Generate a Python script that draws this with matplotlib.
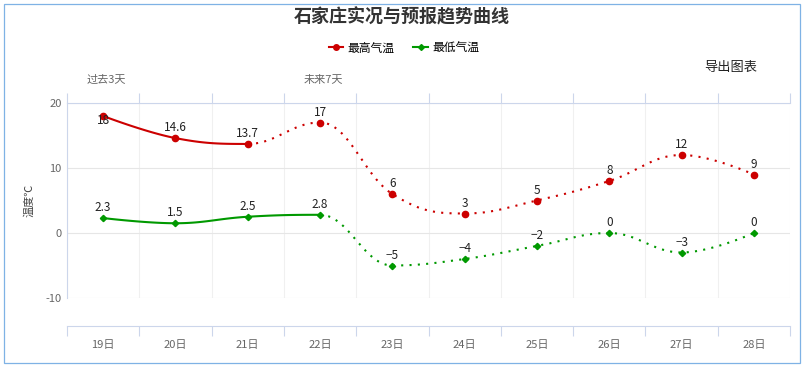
import numpy as np
import matplotlib
matplotlib.use('Agg')
from matplotlib import pyplot as plt
from matplotlib.lines import Line2D
from matplotlib.patches import Rectangle

plt.rcParams['font.family'] = ['Noto Sans CJK SC', 'DejaVu Sans']
plt.rcParams['axes.unicode_minus'] = False

days = ['19日', '20日', '21日', '22日', '23日', '24日', '25日', '26日', '27日', '28日']
high = [18, 14.6, 13.7, 17, 6, 3, 5, 8, 12, 9]
low = [2.3, 1.5, 2.5, 2.8, -5, -4, -2, 0, -3, 0]
high_solid_until = 2   # index where observed data ends (red)
low_solid_until = 3    # green

RED = '#cc0000'
GREEN = '#009900'
AXIS = '#ccd6eb'
GRID_Y = '#e6e6e6'
GRID_X = '#f0f0f0'
GREY = '#666666'


def spline_segments(xs, ys, smoothing=1.5):
    # highcharts-like spline control points
    n = len(xs)
    lc, rc = [], []
    for i in range(n):
        x, y = xs[i], ys[i]
        if 0 < i < n - 1:
            lx, ly = xs[i - 1], ys[i - 1]
            nx, ny = xs[i + 1], ys[i + 1]
            d = smoothing + 1
            lcx = (smoothing * x + lx) / d
            lcy = (smoothing * y + ly) / d
            rcx = (smoothing * x + nx) / d
            rcy = (smoothing * y + ny) / d
            if rcx != lcx:
                corr = ((rcy - lcy) * (rcx - x)) / (rcx - lcx) + y - rcy
                lcy += corr
                rcy += corr
            if lcy > ly and lcy > y:
                lcy = max(ly, y)
                rcy = 2 * y - lcy
            elif lcy < ly and lcy < y:
                lcy = min(ly, y)
                rcy = 2 * y - lcy
            if rcy > ny and rcy > y:
                rcy = max(ny, y)
                lcy = 2 * y - rcy
            elif rcy < ny and rcy < y:
                rcy = min(ny, y)
                lcy = 2 * y - rcy
        else:
            lcx = rcx = x
            lcy = rcy = y
        lc.append((lcx, lcy))
        rc.append((rcx, rcy))

    t = np.linspace(0, 1, 40)[:, None]
    segs = []
    for i in range(1, n):
        p0 = np.array([xs[i - 1], ys[i - 1]])
        p1 = np.array(rc[i - 1])
        p2 = np.array(lc[i])
        p3 = np.array([xs[i], ys[i]])
        pts = ((1 - t) ** 3) * p0 + 3 * ((1 - t) ** 2) * t * p1 + 3 * (1 - t) * t ** 2 * p2 + t ** 3 * p3
        segs.append(pts)
    return segs


def draw_series(ax, values, color, marker, msize, solid_until):
    xs = list(range(len(values)))
    segs = spline_segments(xs, values)
    solid = np.vstack(segs[:solid_until])
    dotted = np.vstack(segs[solid_until:])
    ax.plot(solid[:, 0], solid[:, 1], color=color, lw=1.5, solid_capstyle='round', zorder=3)
    ax.plot(dotted[:, 0], dotted[:, 1], color=color, lw=1.5, linestyle=(0, (1, 3)), zorder=3)
    ax.plot(xs, values, linestyle='none', marker=marker, color=color, markersize=msize, zorder=4)


fig = plt.figure(figsize=(8.05, 3.67), dpi=100)
fig.patches.append(Rectangle((3.5 / 805, 1 - 362.5 / 367), 796.5 / 805, 358.5 / 367,
                             transform=fig.transFigure, fill=False, edgecolor='#7fb2e5', lw=0.9))

ax = fig.add_axes([67 / 805, 1 - 298 / 367, 723 / 805, 195 / 367])
ax.set_xlim(-0.5, 9.5)
ax.set_ylim(-10, 20)

draw_series(ax, high, RED, 'o', 4.5, high_solid_until)
draw_series(ax, low, GREEN, 'D', 3.2, low_solid_until)

# data labels
for i, v in enumerate(high):
    txt = str(v).replace('-', '−')
    off = -3.6 if i == 0 else 7.5
    ax.annotate(txt, (i, v), xytext=(0, off), textcoords='offset points',
                ha='center', va='center', fontsize=8.5, color='#222222', zorder=5)
for i, v in enumerate(low):
    txt = str(v).replace('-', '−')
    ax.annotate(txt, (i, v), xytext=(0, 7.5), textcoords='offset points',
                ha='center', va='center', fontsize=8.5, color='#222222', zorder=5)

# axes styling
ax.set_xticks(range(len(days)))
ax.set_xticklabels(days)
ax.set_xticks(np.arange(-0.5, 10, 1), minor=True)
ax.set_yticks([-10, 0, 10, 20])
ax.tick_params(axis='x', which='major', length=0, pad=10, labelsize=8, labelcolor=GREY)
ax.tick_params(axis='x', which='minor', length=7.2, width=0.8, color=AXIS, direction='out',
               top=True, bottom=True)
ax.tick_params(axis='y', length=0, pad=4, labelsize=8, labelcolor=GREY)
ax.grid(axis='x', which='minor', color=GRID_X, lw=0.8)
ax.grid(axis='y', which='major', color=GRID_Y, lw=0.8)
ax.set_axisbelow(True)

ax.spines['right'].set_visible(False)
ax.spines['left'].set_color(AXIS)
ax.spines['top'].set_color(AXIS)
ax.spines['bottom'].set_color(AXIS)
ax.spines['bottom'].set_position(('outward', 20.2))
for s in ['left', 'top', 'bottom']:
    ax.spines[s].set_linewidth(0.8)

ax.set_ylabel('温度℃', fontsize=8, color='#444444', labelpad=8)

# titles and notes
fig.text(402 / 805, 1 - 17 / 367, '石家庄实况与预报趋势曲线', ha='center', va='center',
         fontsize=13, fontweight='bold', color='#333333')
fig.text(106 / 805, 1 - 80 / 367, '过去3天', ha='center', va='center', fontsize=8, color=GREY)
fig.text(323 / 805, 1 - 80 / 367, '未来7天', ha='center', va='center', fontsize=8, color=GREY)
fig.text(731 / 805, 1 - 67 / 367, '导出图表', ha='center', va='center', fontsize=9.5, color='#222222')

handles = [Line2D([], [], color=RED, marker='o', markersize=4, lw=1.5),
           Line2D([], [], color=GREEN, marker='D', markersize=3, lw=1.5)]
fig.legend(handles, ['最高气温', '最低气温'], loc='center', bbox_to_anchor=(404 / 805, 1 - 48 / 367),
           ncol=2, frameon=False, fontsize=8.5, handlelength=1.2, handletextpad=0.4, columnspacing=1.6)

fig.savefig('out.png', dpi=100)
